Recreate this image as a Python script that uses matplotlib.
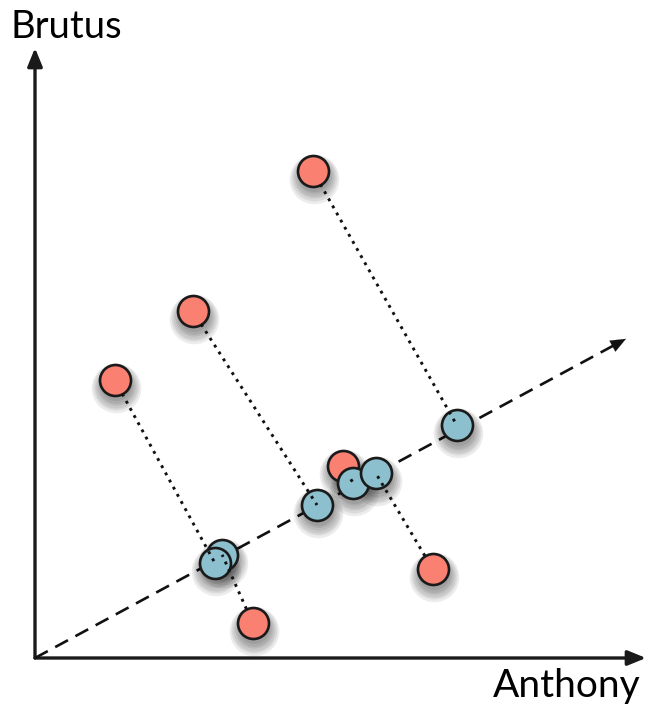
import numpy as np
import matplotlib
matplotlib.use("Agg")
import matplotlib.pyplot as plt

# Data (original points and their projections onto the principal axis)
red_x = [4.63, 2.63, 5.13, 6.63, 3.63, 1.33]
red_y = [8.12, 5.78, 3.20, 1.48, 0.58, 4.63]
blue_x = [7.03, 4.70, 5.30, 5.68, 3.12, 3.00]
blue_y = [3.88, 2.55, 2.92, 3.08, 1.72, 1.58]
# principal direction end point (arrow tip)
pc_end = (9.85, 5.32)
x_label = "Anthony"
y_label = "Brutus"

W, H = 654, 708
fig = plt.figure(figsize=(W / 100, H / 100), dpi=100)
ax = fig.add_axes([0, 0, 1, 1])
unit = 60.0
ox, oy = 35, 658
ax.set_xlim(-ox / unit, (W - ox) / unit)
ax.set_ylim(-(H - oy) / unit, oy / unit)
ax.axis("off")

# axes arrows
ax.annotate("", xy=(0, (oy - 48) / unit), xytext=(0, 0),
            arrowprops=dict(arrowstyle="-|>,head_length=1.1,head_width=0.45",
                            lw=2.4, color="#1a1a1a", shrinkA=0, shrinkB=0), zorder=1)
ax.annotate("", xy=((646 - ox) / unit, 0), xytext=(0, 0),
            arrowprops=dict(arrowstyle="-|>,head_length=1.1,head_width=0.45",
                            lw=2.4, color="#1a1a1a", shrinkA=0, shrinkB=0), zorder=1)

# principal axis (dashed)
ax.plot([0, pc_end[0] - 0.2], [0, pc_end[1] - 0.108], color="#111111", lw=1.9,
        linestyle=(0, (5.5, 3.2)), zorder=1, dash_capstyle="butt")
ax.annotate("", xy=pc_end, xytext=(pc_end[0] - 0.35, pc_end[1] - 0.19),
            arrowprops=dict(arrowstyle="-|>,head_length=1.1,head_width=0.45",
                            lw=0.1, color="#111111", shrinkA=0, shrinkB=0), zorder=1)

r = 15.5 / unit
ms = (2 * 15.5 * 72 / 100) ** 2

# shadows
for bx, by in [(red_x, red_y), (blue_x, blue_y)]:
    for k in range(6):
        ax.scatter(np.array(bx) + 0.02, np.array(by) - 0.08 - k * 0.01,
                   s=ms * (1.0 + 0.12 * k) ** 2, color="black", alpha=0.075,
                   linewidths=0, zorder=2)

ax.scatter(red_x, red_y, s=ms, color="#FA8072", edgecolors="#1a1a1a",
           linewidths=1.9, zorder=3)
ax.scatter(blue_x, blue_y, s=ms, color="#8CC0CE", edgecolors="#1a1a1a",
           linewidths=1.9, zorder=4)

# projection lines (dotted), from red edge to blue centre
for rx, ry, bx, by in zip(red_x, red_y, blue_x, blue_y):
    d = np.hypot(bx - rx, by - ry)
    if d <= r:
        continue
    sx = rx + (bx - rx) * r / d
    sy = ry + (by - ry) * r / d
    ax.plot([sx, bx], [sy, by], color="#111111", lw=2.1,
            linestyle=(0, (1, 1.8)), zorder=5)

ax.text(10 / unit - ox / unit, (oy - 38) / unit, y_label, fontsize=27.5,
        family="Lato", color="black", ha="left", va="baseline")
ax.text((641 - ox) / unit, (oy - 697) / unit, x_label, fontsize=28,
        family="Lato", color="black", ha="right", va="baseline")

fig.savefig("out.png", dpi=100)
